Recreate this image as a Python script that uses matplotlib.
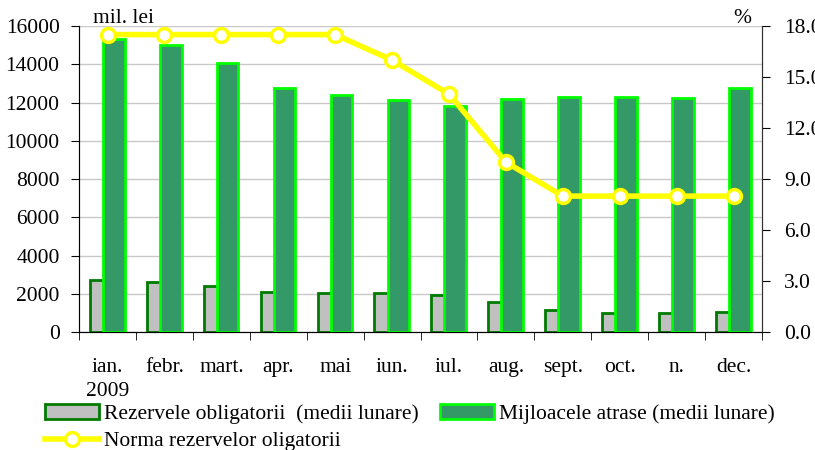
import matplotlib.pyplot as plt
import numpy as np

months = ['ian.\n2009', 'febr.', 'mart.', 'apr.', 'mai', 'iun.',
          'iul.', 'aug.', 'sept.', 'oct.', 'n.', 'dec.']
rezerve = [2720, 2610, 2400, 2110, 2020, 2020, 1920, 1570, 1150, 990, 980, 1030]
mijloace = [15300, 15020, 14080, 12760, 12380, 12130, 11830, 12180, 12270, 12270, 12230, 12760]
norma = [17.5, 17.5, 17.5, 17.5, 17.5, 16.0, 14.0, 10.0, 8.0, 8.0, 8.0, 8.0]

plt.rcParams['font.family'] = ['Liberation Serif', 'DejaVu Serif']
fs = 15.5
plt.rcParams['font.size'] = fs

fig = plt.figure(figsize=(8.15, 4.5), dpi=100)
ax = fig.add_axes([0.097, 0.262, 0.838, 0.680])
x = np.arange(len(months))

w = 0.38
b1 = ax.bar(x - 0.12, rezerve, w, color='#c0c0c0', edgecolor='#007a00', linewidth=2, zorder=2)
b2 = ax.bar(x + 0.11, mijloace, w, color='#339966', edgecolor='#00ff00', linewidth=2, zorder=3)

ax.set_xlim(-0.5, len(months) - 0.5)
ax.set_ylim(0, 16000)
ax.set_yticks(range(0, 16001, 2000))
ax.yaxis.grid(True, color='#c8c8c8', linewidth=1, zorder=0)
ax.set_axisbelow(True)
ax.set_xticks(x)
ax.set_xticklabels(months, linespacing=1.3)
ax.set_xticks(np.arange(-0.5, len(months), 1), minor=True)
ax.tick_params(axis='x', which='major', length=0, pad=19)
ax.tick_params(axis='x', which='minor', length=6, direction='out')
ax.tick_params(axis='y', length=6, direction='out', pad=8)
ax.spines['top'].set_visible(False)
for s in ['left', 'bottom', 'right']:
    ax.spines[s].set_color('#333333')

ax2 = ax.twinx()
ln, = ax2.plot(x, norma, color='#ffff00', linewidth=4, marker='o', markersize=10,
               markerfacecolor='white', markeredgecolor='#ffff00', markeredgewidth=2.5, zorder=5)
ax2.set_ylim(0, 18)
ax2.set_yticks(np.arange(0, 18.1, 3))
ax2.set_yticklabels([f'{v:.1f}' for v in np.arange(0, 18.1, 3)])
ax2.tick_params(axis='y', length=6, direction='out', pad=10)
ax2.spines['top'].set_visible(False)
ax2.spines['right'].set_color('#333333')

fig.text(0.114, 0.948, 'mil. lei', fontsize=fs, va='baseline')
fig.text(0.900, 0.948, '%', fontsize=fs, va='baseline')

fig.legend([b1, ln, b2],
           ['Rezervele obligatorii  (medii lunare)', 'Norma rezervelor oligatorii',
            'Mijloacele atrase (medii lunare)'],
           ncol=2, loc='upper left', bbox_to_anchor=(0.055, 0.103), frameon=False,
           borderpad=0, borderaxespad=0, handlelength=2.5, handletextpad=0.24,
           columnspacing=1.0, labelspacing=0.35, fontsize=fs)

fig.savefig('out.png', dpi=100)
